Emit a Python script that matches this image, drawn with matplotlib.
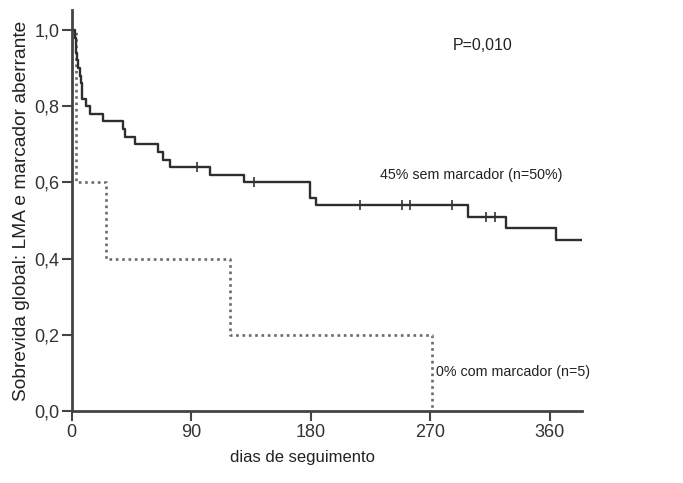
import matplotlib.pyplot as plt

plt.rcParams['font.family'] = ['Liberation Sans', 'DejaVu Sans']

# grupo sem marcador (n=50)
sem_dias = [0, 2.5, 3, 3.5, 4, 5, 6.2, 7, 7.5, 8, 11, 13.5, 23.8, 38.8, 40.1, 47.6,
            65, 68.7, 74, 104, 129.6, 179.3, 183.6, 298.4, 326.8, 365, 383.7]
sem_surv = [1.0, 0.98, 0.96, 0.94, 0.92, 0.90, 0.88, 0.86, 0.84, 0.82, 0.80, 0.78,
            0.76, 0.74, 0.72, 0.70, 0.68, 0.66, 0.64, 0.62, 0.60, 0.56, 0.54,
            0.51, 0.48, 0.45, 0.45]
cens_dias = [94, 137, 217, 249, 254.6, 286, 312, 318.5]
cens_surv = [0.64, 0.60, 0.54, 0.54, 0.54, 0.54, 0.51, 0.51]

# grupo com marcador (n=5)
com_dias = [0, 3.3, 26, 119, 271, 271]
com_surv = [1.0, 0.6, 0.4, 0.2, 0.0, 0.0]

x_ticks = [0, 90, 180, 270, 360]
y_ticks = [0.0, 0.2, 0.4, 0.6, 0.8, 1.0]
y_labels = ['0,0', '0,2', '0,4', '0,6', '0,8', '1,0']

fig = plt.figure(figsize=(6.83, 4.83), dpi=100)
ax = fig.add_axes([0.105, 0.149, 0.7467, 0.830])

ax.step(com_dias, com_surv, where='post', color='#6a6a6a', lw=1.9,
        linestyle=(0, (1, 1.4)))
ax.step(sem_dias, sem_surv, where='post', color='#2e2e2e', lw=1.7)
ax.plot(cens_dias, cens_surv, ls='none', marker='|', ms=6.5, mew=1.2, color='#333333')

ax.set_xlim(0, 384)
ax.set_ylim(0, 1.052)
ax.set_xticks(x_ticks)
ax.set_yticks(y_ticks)
ax.set_yticklabels(y_labels)

for s in ['top', 'right']:
    ax.spines[s].set_visible(False)
for s in ['left', 'bottom']:
    ax.spines[s].set_linewidth(2)
    ax.spines[s].set_color('#444444')
ax.tick_params(direction='out', length=7, width=1.5, color='#444444',
               labelsize=13, labelcolor='#333333', pad=2)

ax.set_xlabel('dias de seguimento', fontsize=12, color='#222222')
ax.xaxis.set_label_coords(0.452, -0.098)
ax.set_ylabel('Sobrevida global: LMA e marcador aberrante', fontsize=13.8,
              color='#222222')
ax.yaxis.set_label_coords(-0.082, 0.5)

ax.text(287, 0.96, 'P=0,010', fontsize=11.5, color='#222222', va='center')
ax.text(232, 0.62, '45% sem marcador (n=50%)', fontsize=10.3, color='#222222',
        va='center')
ax.text(274.5, 0.103, '0% com marcador (n=5)', fontsize=10.3, color='#222222',
        va='center')

fig.savefig('out.png', dpi=100)
